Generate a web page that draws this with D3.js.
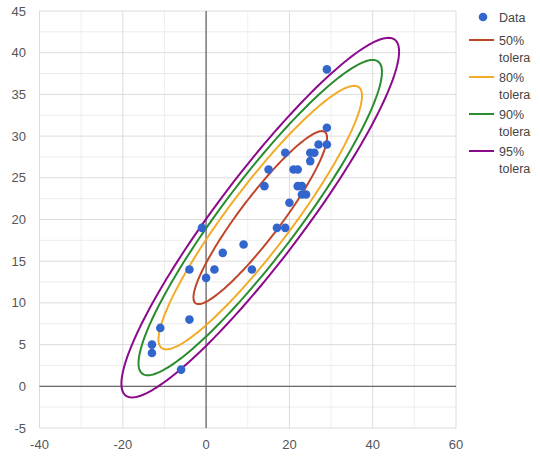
<!DOCTYPE html>
<html>
<head>
<meta charset="utf-8">
<script src="https://cdn.jsdelivr.net/npm/d3@7"></script>
<style>
  body { margin: 0; background: #fff; }
  text { font-family: "Liberation Sans", Arial, sans-serif; }
</style>
</head>
<body>
<script>
var width = 540;
var height = 469;

// data
var xValues = [29, 29, 27, 29, 19, 25, 26, 25, 15, 21, 22, 14, 22, 23, 23, 24, 20, 17, 19, -1, 9, 4, -4, 2, 11, 0, -4, -11, -13, -13, -6];
var yValues = [38, 31, 29, 29, 28, 28, 28, 27, 26, 26, 26, 24, 24, 24, 23, 23, 22, 19, 19, 19, 17, 16, 14, 14, 14, 13, 8, 7, 5, 4, 2];
var levels = [0.5, 0.8, 0.9, 0.95];
var levelNames = ['50% tolerance', '80% tolerance', '90% tolerance', '95% tolerance'];
var levelColors = ['#c0462a', '#f2ac2a', '#2a8c2e', '#8c0a8c'];
var xTicks = [-40, -20, 0, 20, 40, 60];
var yTicks = [-5, 0, 5, 10, 15, 20, 25, 30, 35, 40, 45];

var svg = d3.select('body')
    .append('svg')
    .attr('width', width)
    .attr('height', height);

var xScale = d3.scaleLinear().domain([-40, 60]).range([39.5, 456]);
var yScale = d3.scaleLinear().domain([-5, 45]).range([428, 11]);

// minor grid
svg.append('g').selectAll('line')
    .data(d3.range(-30, 60, 20))
    .enter().append('line')
    .attr('x1', function (d) { return xScale(d); })
    .attr('x2', function (d) { return xScale(d); })
    .attr('y1', yScale(-5)).attr('y2', yScale(45))
    .attr('stroke', '#efefef');
svg.append('g').selectAll('line')
    .data(d3.range(-2.5, 45, 5))
    .enter().append('line')
    .attr('y1', function (d) { return yScale(d); })
    .attr('y2', function (d) { return yScale(d); })
    .attr('x1', xScale(-40)).attr('x2', xScale(60))
    .attr('stroke', '#ececec');

// major grid
svg.append('g').selectAll('line')
    .data(xTicks)
    .enter().append('line')
    .attr('x1', function (d) { return xScale(d); })
    .attr('x2', function (d) { return xScale(d); })
    .attr('y1', yScale(-5)).attr('y2', yScale(45))
    .attr('stroke', '#dcdcdc');
svg.append('g').selectAll('line')
    .data(yTicks)
    .enter().append('line')
    .attr('y1', function (d) { return yScale(d); })
    .attr('y2', function (d) { return yScale(d); })
    .attr('x1', xScale(-40)).attr('x2', xScale(60))
    .attr('stroke', '#dcdcdc');

// zero lines
svg.append('line')
    .attr('x1', xScale(-40)).attr('x2', xScale(60))
    .attr('y1', yScale(0)).attr('y2', yScale(0))
    .attr('stroke', '#6a6a6a').attr('stroke-width', 1.3);
svg.append('line')
    .attr('x1', xScale(0)).attr('x2', xScale(0))
    .attr('y1', yScale(-5)).attr('y2', yScale(45))
    .attr('stroke', '#6a6a6a').attr('stroke-width', 1.3);

// tick labels
svg.append('g').selectAll('text')
    .data(xTicks)
    .enter().append('text')
    .attr('x', function (d) { return xScale(d); })
    .attr('y', 449)
    .attr('text-anchor', 'middle')
    .attr('font-size', 13)
    .attr('fill', '#555')
    .text(function (d) { return d; });
svg.append('g').selectAll('text')
    .data(yTicks)
    .enter().append('text')
    .attr('x', 26)
    .attr('y', function (d) { return yScale(d) + 4.5; })
    .attr('text-anchor', 'end')
    .attr('font-size', 13)
    .attr('fill', '#555')
    .text(function (d) { return d; });

// covariance ellipses
var n = xValues.length;
var mx = d3.mean(xValues), my = d3.mean(yValues);
var sxx = 0, syy = 0, sxy = 0;
for (var i = 0; i < n; i++) {
    sxx += (xValues[i] - mx) * (xValues[i] - mx);
    syy += (yValues[i] - my) * (yValues[i] - my);
    sxy += (xValues[i] - mx) * (yValues[i] - my);
}
sxx /= n - 1; syy /= n - 1; sxy /= n - 1;
var tr = sxx + syy, det = sxx * syy - sxy * sxy;
var l1 = tr / 2 + Math.sqrt(tr * tr / 4 - det);
var l2 = tr / 2 - Math.sqrt(tr * tr / 4 - det);
var theta = Math.atan2(l1 - sxx, sxy);

var line = d3.line()
    .x(function (d) { return xScale(d[0]); })
    .y(function (d) { return yScale(d[1]); })
    .curve(d3.curveLinearClosed);

levels.forEach(function (p, k) {
    var c = Math.sqrt(-2 * Math.log(1 - p));
    var pts = d3.range(0, 360, 2).map(function (a) {
        var t = a * Math.PI / 180;
        var u = c * Math.sqrt(l1) * Math.cos(t);
        var v = c * Math.sqrt(l2) * Math.sin(t);
        return [mx + u * Math.cos(theta) - v * Math.sin(theta),
                my + u * Math.sin(theta) + v * Math.cos(theta)];
    });
    svg.append('path')
        .attr('d', line(pts))
        .attr('fill', 'none')
        .attr('stroke', levelColors[k])
        .attr('stroke-width', 2);
});

// points
svg.append('g').selectAll('circle')
    .data(xValues)
    .enter().append('circle')
    .attr('cx', function (d) { return xScale(d); })
    .attr('cy', function (d, i) { return yScale(yValues[i]); })
    .attr('r', 4.3)
    .attr('fill', '#3366cc');

// legend, clipped on the right like the original
svg.append('clipPath').attr('id', 'legclip')
    .append('rect').attr('x', 460).attr('y', 0).attr('width', 71).attr('height', 200);
var legend = svg.append('g').attr('clip-path', 'url(#legclip)');
legend.append('circle')
    .attr('cx', 483).attr('cy', 17).attr('r', 4.3)
    .attr('fill', '#3366cc');
legend.append('text')
    .attr('x', 499).attr('y', 22)
    .attr('font-size', 12.5).attr('fill', '#444')
    .text('Data');
levelNames.forEach(function (name, k) {
    var y0 = 40 + k * 37;
    legend.append('line')
        .attr('x1', 469).attr('x2', 494)
        .attr('y1', y0).attr('y2', y0)
        .attr('stroke', levelColors[k]).attr('stroke-width', 2);
    var parts = name.split(' ');
    legend.append('text')
        .attr('x', 499).attr('y', y0 + 5)
        .attr('font-size', 12.5).attr('fill', '#444')
        .text(parts[0]);
    legend.append('text')
        .attr('x', 499).attr('y', y0 + 22)
        .attr('font-size', 12.5).attr('fill', '#444')
        .text(parts[1]);
});
</script>
</body>
</html>
